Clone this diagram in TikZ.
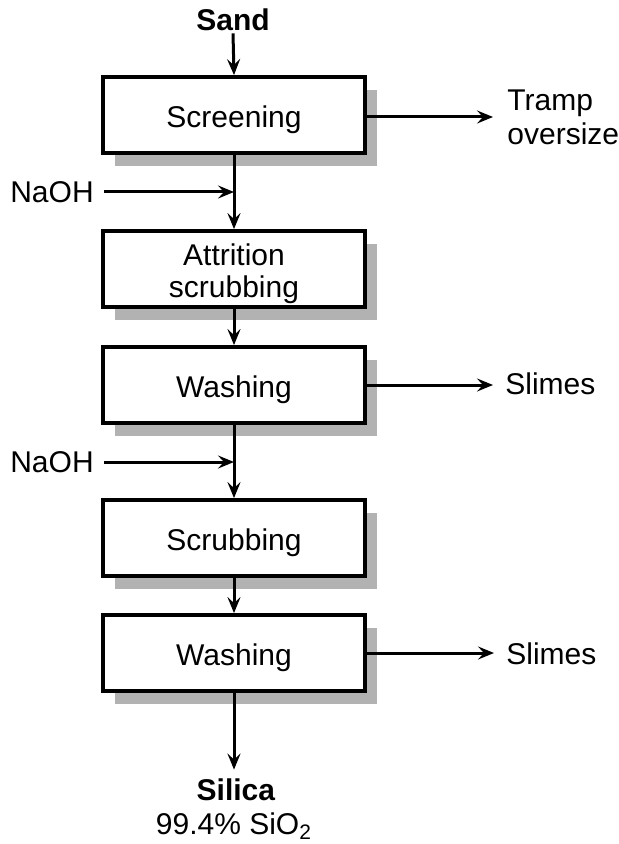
\documentclass[tikz,border=0pt]{standalone}
\usepackage{fontspec}
\setmainfont{Liberation Sans}
\usetikzlibrary{shadows,arrows.meta}

\begin{document}
\begin{tikzpicture}
[x=0.5pt,y=-0.5pt,
  stepBox/.style={shape=rectangle,draw,line width=1.9pt,fill=white,
    minimum width=131pt,minimum height=38pt,
    drop shadow={shadow xshift=6pt,shadow yshift=-6.5pt,fill=black!30,opacity=1}},%
  stepText/.style={align=center,inner sep=0pt,font=\fontsize{15}{16}\selectfont},%
  flowArrow/.style={-{Stealth[length=8pt,width=6.5pt,inset=3pt]},line width=1.5pt},%
  labelText/.style={inner sep=1pt,align=left},%
  font=\fontsize{15}{17.5}\selectfont]
\useasboundingbox (0,0) rectangle (619,844);
%% process boxes
\foreach \nodename/\y/\txt in {screen/115/Screening, attrit/269/{Attrition\\scrubbing},
  wash1/385/Washing, scrub/538/Scrubbing, wash2/653/Washing}
{
  \node (\nodename) at (234,\y) [stepBox] {};
  \node (\nodename-txt) at ([yshift=-2.5pt]\nodename.center) [stepText] {\txt};
}
%% feeds and products
\node (sand) at (233,20) [labelText] {\textbf{Sand}};
\node (silica) at (236,790) [labelText] {\textbf{Silica}};
\node (grade) at (234,826) [labelText] {99.4\% SiO\textsubscript{2}};
\node (naoh1) at (52,192) [labelText] {NaOH};
\node (naoh2) at (52,462) [labelText] {NaOH};
\node (tramp) at (505,117) [labelText,anchor=west,font=\fontsize{15}{17}\selectfont] {Tramp\\oversize};
\node (slimes1) at (503,384) [labelText,anchor=west] {Slimes};
\node (slimes2) at (504,654) [labelText,anchor=west] {Slimes};
\coordinate (join1) at (screen.south |- naoh1.east);
\coordinate (join2) at (wash1.south |- naoh2.east);
\coordinate (product) at ([yshift=3.5pt]wash2.south |- silica.north);
%% connectors
\path
\foreach \startnode/\endnode in {sand/screen, screen/attrit, attrit/wash1,
  wash1/scrub, scrub/wash2}
{
  (\startnode.south) edge[flowArrow] (\endnode.north)
}
(wash2.south) edge[flowArrow] (product)
(naoh1.east) edge[flowArrow,shorten <=4pt] (join1)
(naoh2.east) edge[flowArrow,shorten <=4pt] (join2)
(screen.east |- tramp.west) edge[flowArrow,shorten >=6pt] (tramp.west)
(wash1.east) edge[flowArrow,shorten >=5pt] (wash1.east -| slimes1.west)
(wash2.east) edge[flowArrow,shorten >=5pt] (wash2.east -| slimes2.west);
\end{tikzpicture}
\end{document}
